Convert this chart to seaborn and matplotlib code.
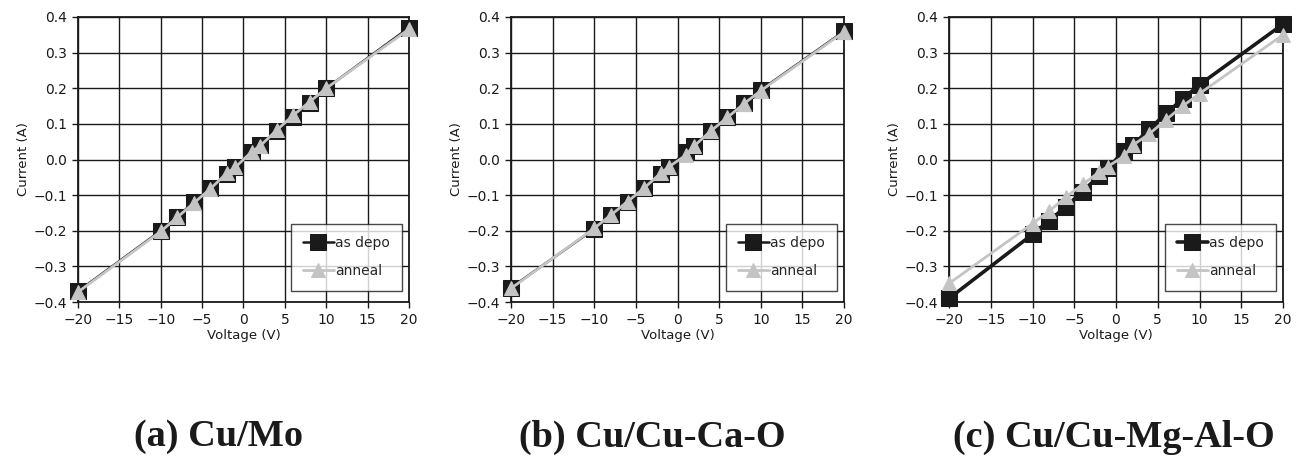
import matplotlib
matplotlib.use("Agg")
import matplotlib.pyplot as plt
import seaborn as sns
import pandas as pd

voltage = [-20, -10, -8, -6, -4, -2, -1, 1, 2, 4, 6, 8, 10, 20]

a_depo = [-0.370, -0.200, -0.160, -0.120, -0.080, -0.040, -0.020, 0.020, 0.040, 0.080, 0.120, 0.160, 0.200, 0.370]
a_anneal = [-0.372, -0.202, -0.162, -0.122, -0.082, -0.038, -0.022, 0.022, 0.038, 0.082, 0.124, 0.162, 0.200, 0.366]

b_depo = [-0.360, -0.195, -0.155, -0.120, -0.080, -0.042, -0.022, 0.022, 0.038, 0.080, 0.120, 0.158, 0.195, 0.360]
b_anneal = [-0.362, -0.193, -0.156, -0.118, -0.080, -0.038, -0.020, 0.012, 0.038, 0.080, 0.118, 0.157, 0.193, 0.358]

c_depo = [-0.390, -0.210, -0.172, -0.132, -0.090, -0.045, -0.025, 0.025, 0.040, 0.085, 0.130, 0.170, 0.210, 0.380]
c_anneal = [-0.348, -0.180, -0.145, -0.105, -0.070, -0.035, -0.020, 0.010, 0.040, 0.072, 0.112, 0.150, 0.185, 0.350]

captions = ["(a) Cu/Mo", "(b) Cu/Cu-Ca-O", "(c) Cu/Cu-Mg-Al-O"]
series_names = ["as depo", "anneal"]
x_ticks = [-20, -15, -10, -5, 0, 5, 10, 15, 20]
y_ticks = [-0.4, -0.3, -0.2, -0.1, 0.0, 0.1, 0.2, 0.3, 0.4]

sns.set_theme(style="white")
plt.rcParams['font.family'] = ['DejaVu Sans']

W, H = 1298, 457
fig = plt.figure(figsize=(W / 100, H / 100), dpi=100)

panels = [(a_depo, a_anneal), (b_depo, b_anneal), (c_depo, c_anneal)]
lefts = [78, 511, 949]
widths = [331, 333, 334]
top, bottom = 17, 302
caption_x = [218, 652, 1114]
depo_lw = [1.8, 1.8, 2.6]

for i, (depo, anneal) in enumerate(panels):
    ax = fig.add_axes([lefts[i] / W, (H - bottom) / H, widths[i] / W, (bottom - top) / H])
    df = pd.DataFrame({
        "Voltage": voltage * 2,
        "Current": depo + anneal,
        "series": [series_names[0]] * len(voltage) + [series_names[1]] * len(voltage),
    })
    sns.lineplot(data=df[df.series == "as depo"], x="Voltage", y="Current", ax=ax,
                 color="#1a1a1a", marker="s", markersize=12, linewidth=depo_lw[i],
                 markeredgecolor="#1a1a1a", label="as depo", zorder=3, clip_on=False)
    sns.lineplot(data=df[df.series == "anneal"], x="Voltage", y="Current", ax=ax,
                 color="#c4c4c4", marker="^", markersize=10, linewidth=2.0,
                 markeredgecolor="#c4c4c4", label="anneal", zorder=4, clip_on=False)
    ax.set_xlim(-20, 20)
    ax.set_ylim(-0.4, 0.4)
    ax.set_xticks(x_ticks)
    ax.set_yticks(y_ticks)
    ax.set_xticklabels([f"{t:d}".replace("-", "\u2212") for t in x_ticks], fontsize=10)
    ax.set_yticklabels([f"{t:.1f}".replace("-", "\u2212") for t in y_ticks], fontsize=10)
    ax.grid(True, color="#1a1a1a", linewidth=1.0)
    ax.set_axisbelow(True)
    for s in ax.spines.values():
        s.set_color("#1a1a1a")
        s.set_linewidth(1.3)
    ax.tick_params(axis="both", direction="out", length=4, width=1, color="#1a1a1a",
                   labelcolor="#1a1a1a", pad=4, bottom=True, left=True)
    ax.set_xlabel("Voltage (V)", fontsize=9.5, color="#1a1a1a", labelpad=1)
    ax.set_ylabel("Current (A)", fontsize=9.5, color="#1a1a1a", labelpad=2)
    leg = ax.legend(loc="lower right", bbox_to_anchor=(0.98, 0.04), fontsize=10,
                    frameon=True, fancybox=False, edgecolor="#1a1a1a",
                    handlelength=2.2, handletextpad=0.1, labelspacing=1.0,
                    borderpad=0.9, borderaxespad=0.0)
    leg.get_frame().set_linewidth(1.0)
    fig.text(caption_x[i] / W, 1 - 437 / H, captions[i], ha="center", va="center",
             fontsize=27.5, fontweight="bold", family="Liberation Serif", color="#1a1a1a")

fig.savefig("out.png", dpi=100)
